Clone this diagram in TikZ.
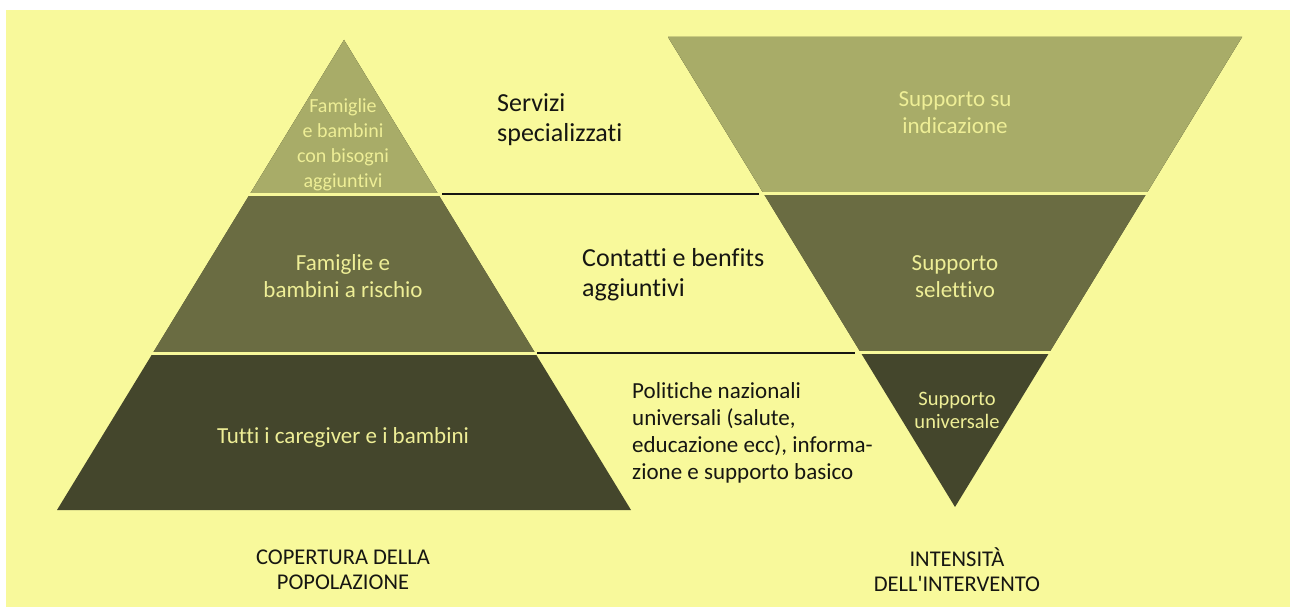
\documentclass[tikz,border=0pt]{standalone}
\usepackage{fontspec}
\setmainfont{Carlito}[Ligatures={NoCommon,TeXOff}]
\usepackage{tikz}
\usetikzlibrary{calc}

\definecolor{bgyellow}{RGB}{248,249,155}
\definecolor{bandlight}{RGB}{168,172,104}
\definecolor{bandmid}{RGB}{106,108,66}
\definecolor{banddark}{RGB}{68,70,44}
\definecolor{txtlight}{RGB}{238,238,150}
\definecolor{txtdark}{RGB}{22,22,18}

\tikzset{
  bandtext/.style={text=txtlight, align=center, inner sep=0pt, font=\fontsize{23}{27}\selectfont},
  smalltext/.style={bandtext, font=\fontsize{20}{25}\selectfont},
  sidetext/.style={text=txtdark, align=left, anchor=west, inner sep=0pt, font=\fontsize{23}{27}\selectfont},
  bigtext/.style={sidetext, font=\fontsize{26}{30}\selectfont},
  axistext/.style={text=txtdark, align=center, inner sep=0pt, font=\fontsize{22.5}{25}\selectfont},
  gap/.style={bgyellow, line width=3pt},
  rule/.style={txtdark, line width=2.2pt}
}

\begin{document}
\begin{tikzpicture}[x=1pt, y=-1pt]
      \fill[white] (0,0) rectangle (1290,607);
      \fill[bgyellow] (6,10) rectangle (1290,607);
      \useasboundingbox (0,0) rectangle (1290,607);

      % left pyramid
      \coordinate (LA) at (344,40);
      \coordinate (LL) at (57,510);
      \coordinate (LR) at (631,510);
      \coordinate (L1l) at ($(LA)!0.328!(LL)$);
      \coordinate (L1r) at ($(LA)!0.328!(LR)$);
      \coordinate (L2l) at ($(LA)!0.666!(LL)$);
      \coordinate (L2r) at ($(LA)!0.666!(LR)$);

      \fill[banddark] (LA) -- (LL) -- (LR) -- cycle;
      \fill[bandmid] (LA) -- (L2l) -- (L2r) -- cycle;
      \fill[bandlight] (LA) -- (L1l) -- (L1r) -- cycle;
      \draw[gap] ($(L1l)+(-4,0)$) -- ($(L1r)+(4,0)$);
      \draw[gap] ($(L2l)+(-4,0)$) -- ($(L2r)+(4,0)$);

      % right funnel
      \coordinate (RL) at (668,37);
      \coordinate (RR) at (1242,37);
      \coordinate (RA) at (955,507);
      \coordinate (R1l) at ($(RL)!0.334!(RA)$);
      \coordinate (R1r) at ($(RR)!0.334!(RA)$);
      \coordinate (R2l) at ($(RL)!0.672!(RA)$);
      \coordinate (R2r) at ($(RR)!0.672!(RA)$);

      \fill[banddark] (RL) -- (RR) -- (RA) -- cycle;
      \fill[bandmid] (RL) -- (RR) -- (R2r) -- (R2l) -- cycle;
      \fill[bandlight] (RL) -- (RR) -- (R1r) -- (R1l) -- cycle;
      \draw[gap] ($(R1l)+(-4,0)$) -- ($(R1r)+(4,0)$);
      \draw[gap] ($(R2l)+(-4,0)$) -- ($(R2r)+(4,0)$);

      % rules between the two shapes
      \coordinate (M1a) at (442,194);
      \coordinate (M1b) at (759,194);
      \coordinate (M2a) at (537,353);
      \coordinate (M2b) at (855,353);
      \draw[rule] (M1a) -- (M1b);
      \draw[rule] (M2a) -- (M2b);

      % texts
      \node[smalltext] (famagg) at (343,145) {Famiglie\\e bambini\\con bisogni\\aggiuntivi};
      \node[bandtext] (famrisk) at (343,276) {Famiglie e\\bambini a rischio};
      \node[bandtext] (tutti) at (343,437) {Tutti i caregiver e i bambini};

      \node[bigtext] (servizi) at (497,120) {Servizi\\specializzati};
      \node[bigtext] (contatti) at (582,275) {Contatti e benfits\\aggiuntivi};
      \node[sidetext] (politiche) at (632,433) {Politiche nazionali\\universali (salute,\\educazione ecc), informa-\\zione e supporto basico};

      \node[bandtext] (indic) at (955,113) {Supporto su\\indicazione};
      \node[bandtext] (selett) at (955,277) {Supporto\\selettivo};
      \node[smalltext, font=\fontsize{20.5}{23}\selectfont] (univ) at (957,410) {Supporto\\universale};

      \node[axistext] (copertura) at (343,570) {COPERTURA DELLA\\POPOLAZIONE};
      \node[axistext] (intensita) at (957,570) {INTENSITÀ\\DELL'INTERVENTO};
\end{tikzpicture}
\end{document}
